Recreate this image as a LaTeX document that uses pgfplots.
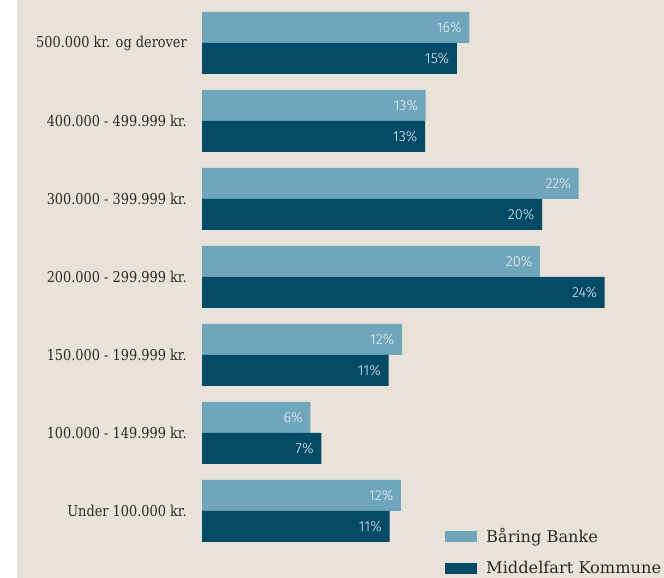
\documentclass[border=0pt]{standalone}
\usepackage{pgfplots}
\pgfplotsset{compat=1.18}
\usepackage{fontspec}
\setmainfont{DejaVu Serif}[FakeStretch=0.86]
\newfontfamily\legfont{DejaVu Serif}
\newfontfamily\pctfont{Fira Sans Light}
\definecolor{bg}{HTML}{E8E2D8}
\definecolor{lightbar}{HTML}{6FA6BC}
\definecolor{darkbar}{HTML}{024A66}
\definecolor{txt}{HTML}{2A2A2A}
\definecolor{lbl}{HTML}{EEF2F4}
\begin{document}
\begin{tikzpicture}
\useasboundingbox (0,0) rectangle (664pt,578pt);
\fill[white] (0,0) rectangle (17pt,578pt);
\fill[bg] (17pt,0) rectangle (664pt,578pt);
\begin{axis}[
  at={(202pt,0pt)}, anchor=south west,
  scale only axis, width=440.7pt, height=578pt,
  xmin=0, xmax=26, ymin=-0.859, ymax=6.551,
  axis line style={draw=none},
  major tick length=0pt,
  xtick=\empty,
  ytick={0,1,2,3,4,5,6},
  yticklabels={Under 100.000 kr., 100.000 - 149.999 kr., 150.000 - 199.999 kr., 200.000 - 299.999 kr., 300.000 - 399.999 kr., 400.000 - 499.999 kr., 500.000 kr. og derover},
  yticklabel style={font=\fontsize{15}{18}\selectfont, text=txt, inner sep=0pt, xshift=-15pt},
  clip=false,
  xbar, bar width=31pt,
  point meta=explicit symbolic,
  nodes near coords={\pgfplotspointmeta\%},
  every node near coord/.append style={anchor=east, inner sep=0pt, xshift=-7.5pt, font=\pctfont\fontsize{14.5}{17}\selectfont, text=lbl},
  legend style={at={(0.5514,0.0895)}, anchor=north west, draw=none, fill=none, inner sep=0pt, font=\legfont\fontsize{16.2}{20}\selectfont, text=txt, row sep=13pt, /tikz/every odd column/.append style={column sep=7pt}},
  legend cell align=left,
  legend image code/.code={\fill[#1] (0pt,-5.5pt) rectangle (32pt,5.5pt);},
]
\addplot[fill=lightbar, draw=none, bar shift=15.5pt] table[x=v, y=y, meta=l] {
y v l
0 11.74 12
1 6.39 6
2 11.80 12
3 19.94 20
4 22.22 22
5 13.20 13
6 15.77 16
};
\addlegendentry{Båring Banke}
\addplot[fill=darkbar, draw=none, bar shift=-15.5pt] table[x=v, y=y, meta=l] {
y v l
0 11.07 11
1 7.04 7
2 11.01 11
3 23.76 24
4 20.06 20
5 13.16 13
6 15.03 15
};
\addlegendentry{Middelfart Kommune}
\end{axis}
\end{tikzpicture}
\end{document}
